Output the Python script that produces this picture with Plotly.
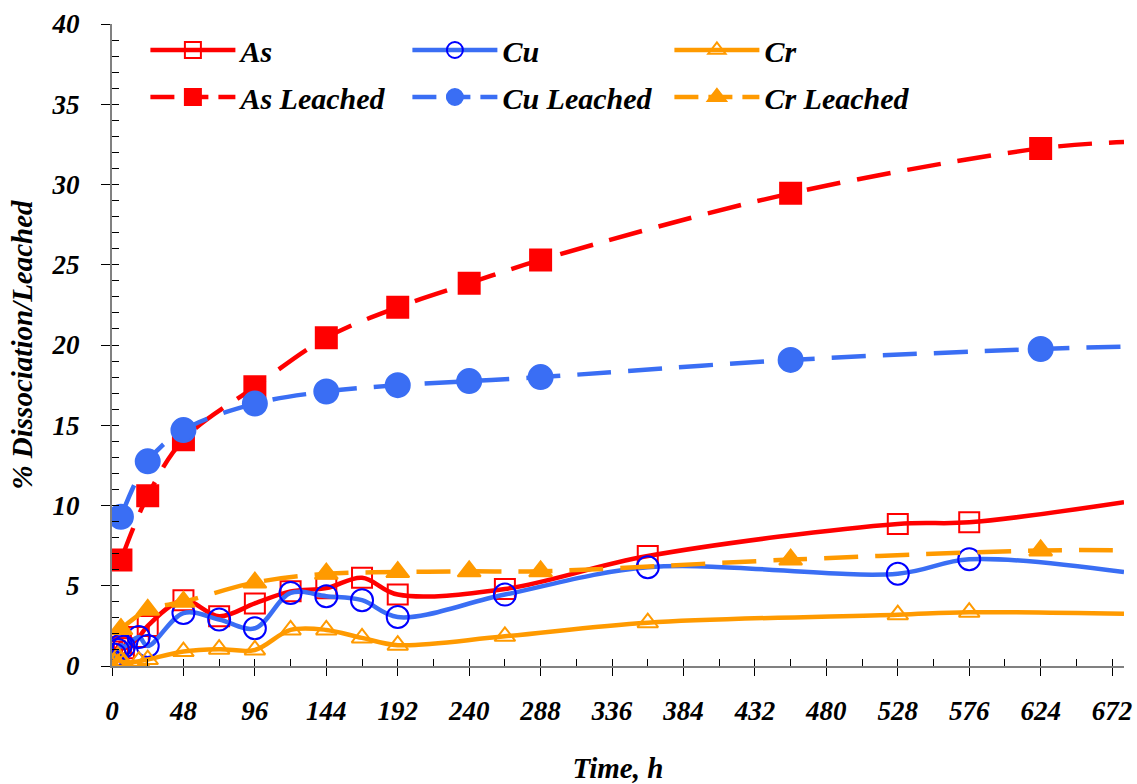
import plotly.graph_objects as go

# ---------------- data ----------------
t_diss = [0, 2, 4, 6, 8, 18, 24, 48, 72, 96, 120, 144, 168, 192, 264, 360, 528, 576, 680]
as_diss = [0.4, 0.9, 1.2, 1.4, 1.1, 1.8, 2.5, 4.1, 3.1, 3.9, 4.65, 4.85, 5.5, 4.45, 4.8, 6.85, 8.85, 8.95, 10.2]
cu_diss = [0.3, 0.7, 1.0, 1.3, 1.2, 1.8, 1.25, 3.3, 2.9, 2.35, 4.55, 4.35, 4.1, 3.05, 4.45, 6.15, 5.75, 6.65, 5.85]
cr_diss = [0.0, 0.2, 0.6, 0.3, 0.2, 0.3, 0.4, 0.9, 1.05, 1.0, 2.25, 2.25, 1.75, 1.3, 1.85, 2.7, 3.2, 3.35, 3.25]

t_leach = [6, 24, 48, 96, 144, 192, 240, 288, 456, 624, 680]
as_leach = [6.6, 10.6, 14.1, 17.4, 20.45, 22.35, 23.85, 25.3, 29.45, 32.25, 32.65]
cu_leach = [9.3, 12.75, 14.7, 16.35, 17.1, 17.5, 17.75, 18.0, 19.07, 19.75, 19.9]
cr_leach = [2.3, 3.5, 4.0, 5.2, 5.75, 5.85, 5.9, 5.9, 6.63, 7.2, 7.2]

x_ticks = [0, 48, 96, 144, 192, 240, 288, 336, 384, 432, 480, 528, 576, 624, 672]
y_ticks = [0, 5, 10, 15, 20, 25, 30, 35, 40]

RED = "#FF0000"
BLUE = "#3A6EF4"
DBLUE = "#0000FF"
ORANGE = "#FF9A00"
FONT = "Liberation Serif"
DASH = "34px,17px"

fig = go.Figure()

series = [
    ("As", t_diss, as_diss, RED, "solid", "square-open", RED, 20, "legend"),
    ("Cu", t_diss, cu_diss, BLUE, "solid", "circle-open", DBLUE, 22, "legend"),
    ("Cr", t_diss, cr_diss, ORANGE, "solid", "triangle-up-open", ORANGE, 18, "legend"),
    ("As Leached", t_leach, as_leach, RED, DASH, "square", RED, 21, "legend2"),
    ("Cu Leached", t_leach, cu_leach, BLUE, DASH, "circle", BLUE, 24, "legend2"),
    ("Cr Leached", t_leach, cr_leach, ORANGE, DASH, "triangle-up", ORANGE, 20, "legend2"),
]

for name, tx, ty, lc, dash, sym, mc, ms, lg in series:
    # smoothed line through all points (last point has no marker)
    fig.add_trace(go.Scatter(
        x=tx, y=ty, mode="lines", showlegend=False, hoverinfo="skip",
        line=dict(color=lc, width=4.5, dash=dash, shape="spline", smoothing=1.0),
    ))
    fig.add_trace(go.Scatter(
        x=tx[:-1], y=ty[:-1], mode="markers", showlegend=False, name=name,
        marker=dict(symbol=sym, color=mc, size=ms, line=dict(color=mc, width=2)),
    ))

for name, tx, ty, lc, dash, sym, mc, ms, lg in series:
    fig.add_trace(go.Scatter(
        x=[None], y=[None], mode="lines+markers", name=name, legend=lg,
        line=dict(color=lc, width=4.5, dash=dash if dash == "solid" else "24px,10px"),
        marker=dict(symbol=sym, color=mc, size=ms - 3, line=dict(color=mc, width=2)),
    ))

axis_font = dict(family=FONT, size=27, color="black", weight="bold", style="italic")
title_font = dict(family=FONT, size=29, color="black", weight="bold", style="italic")
legend_common = dict(
    orientation="h", xanchor="left", yanchor="middle",
    entrywidth=162, entrywidthmode="pixels", itemwidth=85,
    font=dict(family=FONT, size=30, color="black", weight="bold", style="italic"),
    bgcolor="rgba(0,0,0,0)", traceorder="normal",
)

fig.update_layout(
    width=1137, height=784,
    margin=dict(l=112, r=13, t=24, b=118),
    paper_bgcolor="white", plot_bgcolor="white",
    font=dict(family=FONT, color="black"),
    showlegend=True,
    legend=dict(x=0.033, y=(642 - 26) / 642, **legend_common),
    legend2=dict(x=0.033, y=(642 - 73) / 642, **legend_common),
    xaxis=dict(
        range=[0, 680], tickvals=x_ticks, ticktext=[str(v) for v in x_ticks],
        showgrid=False, zeroline=False, showline=True, linecolor="#808080", linewidth=2,
        ticks="outside", ticklen=8, tickwidth=1.2, tickcolor="black", automargin=False,
        ticklabelstandoff=12, tickfont=axis_font,
        title=dict(text="Time, h", font=title_font, standoff=32),
    ),
    yaxis=dict(
        range=[0, 40], tickvals=y_ticks, ticktext=[str(v) for v in y_ticks],
        showgrid=False, zeroline=False, showline=True, linecolor="#808080", linewidth=2,
        ticks="outside", ticklen=9, tickwidth=1.2, tickcolor="black", automargin=False,
        ticklabelstandoff=16, tickfont=axis_font,
        title=dict(text="% Dissociation/Leached", font=title_font, standoff=10),
    ),
    xaxis2=dict(
        range=[0, 680], overlaying="x", anchor="y", side="bottom", dtick=24, tick0=0,
        showgrid=False, zeroline=False, showline=False, ticks="inside", ticklen=7,
        tickwidth=1.2, tickcolor="black", showticklabels=False,
    ),
    yaxis2=dict(
        range=[0, 40], overlaying="y", anchor="x", side="left", dtick=1, tick0=0,
        showgrid=False, zeroline=False, showline=False, ticks="inside", ticklen=7,
        tickwidth=1.2, tickcolor="black", showticklabels=False,
    ),
)

# dummy trace to activate the overlay tick axes
fig.add_trace(go.Scatter(x=[None], y=[None], xaxis="x2", yaxis="y2", showlegend=False, hoverinfo="skip"))

fig.write_html("out.html")
